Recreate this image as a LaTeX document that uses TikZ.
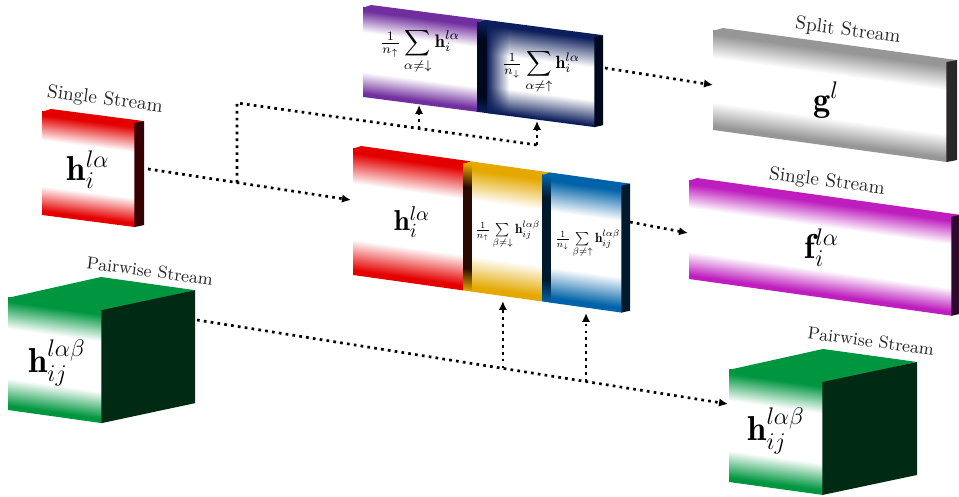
\documentclass[tikz,border=0pt]{standalone}
\usepackage{fontspec}
\usepackage{amsmath}
\usepackage{graphicx}
\usetikzlibrary{arrows.meta,calc,fadings}
\definecolor{cRed}{RGB}{228,0,0}
\definecolor{cRedD}{RGB}{55,0,0}
\definecolor{cYel}{RGB}{228,168,0}
\definecolor{cYelD}{RGB}{40,10,0}
\definecolor{cBlu}{RGB}{0,98,168}
\definecolor{cBluD}{RGB}{0,25,45}
\definecolor{cPur}{RGB}{112,46,158}
\definecolor{cNav}{RGB}{12,30,92}
\definecolor{cNavD}{RGB}{0,8,30}
\definecolor{cGry}{RGB}{150,150,150}
\definecolor{cGryD}{RGB}{40,40,40}
\definecolor{cMag}{RGB}{190,30,190}
\definecolor{cMagD}{RGB}{45,10,45}
\definecolor{cGrn}{RGB}{0,150,64}
\definecolor{cGrnD}{RGB}{0,42,20}
\newcommand\mkshade[2]{\pgfdeclareverticalshading{#1}{100bp}{color(0bp)=(#2); color(27bp)=(#2); color(39bp)=(white); color(61bp)=(white); color(73bp)=(#2); color(100bp)=(#2)}}
\newcommand\mkstrip[3]{\pgfdeclareverticalshading{#1}{100bp}{color(0bp)=(#2); color(25bp)=(#2); color(34bp)=(#3); color(66bp)=(#3); color(75bp)=(#2); color(100bp)=(#2)}}
\mkshade{shR}{cRed}
\mkshade{shY}{cYel}
\mkshade{shB}{cBlu}
\mkshade{shP}{cPur}
\mkshade{shG}{cGry}
\mkshade{shM}{cMag}
\mkshade{shGr}{cGrn}
\pgfdeclareverticalshading{shN}{100bp}{color(0bp)=(cNav); color(26bp)=(cNav); color(40bp)=(white); color(58bp)=(white); color(74bp)=(cNav); color(100bp)=(cNav)}
\mkstrip{stY}{cYel}{cYelD}
\mkstrip{stB}{cBlu}{cBluD}
\mkstrip{stN}{cNav}{cNavD}
\tikzfading[name=faderight, left color=transparent!0, right color=transparent!100]
% front face: x, y, w, h, slope, shading
\newcommand\frontface[6]{%
  \begin{scope}[transform canvas={shift={(#1,#2)},yslant=-#5}]
    \shade[shading=#6] (0,0) rectangle (#3,#4);
  \end{scope}}
% left edge glow on a front face: x, y, w, h, slope, colour
\newcommand\edgeglow[6]{%
  \begin{scope}[transform canvas={shift={(#1,#2)},yslant=-#5}]
    \fill[#6, path fading=faderight] (0,0) rectangle (#3,#4);
  \end{scope}}
% side face: x, y, w, h, slope, dx, dy, colour
\newcommand\sideface[8]{%
  \fill[#8] (#1+#3-0.6,#2+#3*#5) -- (#1+#3+#6,#2+#3*#5+#7) -- (#1+#3+#6,#2+#3*#5+#7+#4) -- (#1+#3-0.6,#2+#3*#5+#4) -- cycle;}
% top face: x, y, w, slope, dx, dy, colour
\newcommand\topface[7]{%
  \fill[#7] (#1,#2+0.8) -- (#1+#3,#2+#3*#4+0.8) -- (#1+#3+#5,#2+#3*#4+#6) -- (#1+#5,#2+#6) -- cycle;}
\begin{document}
\begin{tikzpicture}[x=0.5pt,y=-0.5pt,
  conn/.style={line width=1.35pt, dash pattern=on 1.35pt off 2.1pt, -{Latex[length=4.5pt,width=4.2pt]}},
  plainline/.style={line width=1.35pt, dash pattern=on 1.35pt off 2.1pt},
  lab/.style={font=\fontsize{9.6}{11}\selectfont, rotate=-7.5, inner sep=0pt, text=black!85},
  labp/.style={font=\fontsize{8.7}{10}\selectfont, rotate=-7.5, inner sep=0pt, text=black!85},
  mlab/.style={inner sep=0pt}]
\useasboundingbox (0,0) rectangle (959,497);

% ---------- small single stream box (left)
\frontface{42}{111}{93}{104}{0.13}{shR}
\topface{42}{111}{93}{0.13}{9}{-2}{cRed}
\sideface{42}{111}{93}{104}{0.13}{9}{-2}{cRedD}
\node[mlab] (srl) at (88,170) {\LARGE$\mathbf{h}_i^{l\alpha}$};
\node[lab] (srt) at (105,100) {Single Stream};

% ---------- pairwise cube (left)
\frontface{8}{297}{94}{113}{0.14}{shGr}
\topface{8}{297}{94}{0.14}{93}{-20}{cGrn}
\sideface{8}{297}{94}{113}{0.14}{93}{-20}{cGrnD}
\node[mlab] (gcl) at (57,363) {\LARGE$\mathbf{h}_{ij}^{l\alpha\beta}$};
\node[labp] (gct) at (150,271) {Pairwise Stream};

% ---------- top row (purple + navy)
\frontface{363}{7}{114}{90}{0.13}{shP}
\topface{363}{7}{114}{0.13}{8}{-2}{cPur}
\frontface{477}{21.82}{10}{90}{0.13}{stN}
\frontface{487}{23.12}{108}{90}{0.13}{shN}
\edgeglow{487}{23.12}{22}{90}{0.13}{cNav}
\topface{477}{21.82}{118}{0.13}{8}{-2}{cNav}
\sideface{487}{23.12}{108}{90}{0.13}{8}{-2}{cNavD}
\node[mlab] (ppl) at (420,51) {\resizebox{40pt}{!}{$\frac{1}{n_\uparrow}\displaystyle\sum_{\alpha\neq\downarrow}\mathbf{h}_i^{l\alpha}$}};
\node[mlab] (nvl) at (541,72) {\resizebox{39pt}{!}{$\frac{1}{n_\downarrow}\displaystyle\sum_{\alpha\neq\uparrow}\mathbf{h}_i^{l\alpha}$}};

% ---------- middle row (red + yellow + blue)
\frontface{353}{148}{110}{127}{0.14}{shR}
\topface{353}{148}{110}{0.14}{8}{-2}{cRed}
\frontface{463}{163.4}{9}{127}{0.14}{stY}
\frontface{472}{164.66}{70}{127}{0.14}{shY}
\topface{463}{163.4}{79}{0.14}{8}{-2}{cYel}
\frontface{542}{174.46}{9}{127}{0.14}{stB}
\frontface{551}{175.72}{71}{127}{0.14}{shB}
\topface{542}{174.46}{80}{0.14}{8}{-2}{cBlu}
\sideface{551}{175.72}{71}{127}{0.14}{8}{-2}{cBluD}
\node[mlab] (mrl) at (412,222) {\Large$\mathbf{h}_i^{l\alpha}$};
\node[mlab] (yll) at (507.5,235) {\resizebox{32.5pt}{!}{$\frac{1}{n_\uparrow}\sum\limits_{\beta\neq\downarrow}\mathbf{h}_{ij}^{l\alpha\beta}$}};
\node[mlab] (bll) at (587.5,244) {\resizebox{32.5pt}{!}{$\frac{1}{n_\downarrow}\sum\limits_{\beta\neq\uparrow}\mathbf{h}_{ij}^{l\alpha\beta}$}};

% ---------- split stream (grey)
\frontface{713}{30}{234}{100}{0.137}{shG}
\topface{713}{30}{234}{0.137}{10}{-2}{cGry}
\sideface{713}{30}{234}{100}{0.137}{10}{-2}{cGryD}
\node[mlab] (grl) at (826,100) {\LARGE$\mathbf{g}^{l}$};
\node[lab] (grt) at (848,31) {Split Stream};

% ---------- single stream (magenta)
\frontface{689}{180}{263}{99}{0.14}{shM}
\topface{689}{180}{263}{0.14}{8}{-2}{cMag}
\sideface{689}{180}{263}{99}{0.14}{8}{-2}{cMagD}
\node[mlab] (mgl) at (822,248) {\LARGE$\mathbf{f}_i^{l\alpha}$};
\node[lab] (mgt) at (827,182) {Single Stream};

% ---------- pairwise cube (right)
\frontface{729}{369}{94}{113}{0.138}{shGr}
\topface{729}{369}{94}{0.138}{94}{-20}{cGrn}
\sideface{729}{369}{94}{113}{0.138}{94}{-20}{cGrnD}
\node[mlab] (rcl) at (776,431) {\LARGE$\mathbf{h}_{ij}^{l\alpha\beta}$};
\node[labp] (rct) at (871,341) {Pairwise Stream};

% ---------- connectors
\coordinate (srOut) at (148,169);
\coordinate (mrIn) at (351,200);
\coordinate (j1) at ($(srOut)!0.438!(mrIn)$);
\coordinate (k1) at (j1 |- 0,103);
\coordinate (k2) at (537,145);
\coordinate (k3) at ($(k1)!0.607!(k2)$);
\coordinate (ppIn) at (k3 |- 0,105);
\coordinate (nvIn) at (k2 |- 0,121);
\draw[conn] (srOut) -- (mrIn);
\draw[plainline] (j1) -- (k1) -- (k2);
\draw[conn] (k2) -- (nvIn);
\draw[conn] (k3) -- (ppIn);

\coordinate (nvOut) at (605,68);
\coordinate (grIn) at (713,85);
\draw[conn] (nvOut) -- (grIn);

\coordinate (blOut) at (630,222);
\coordinate (mgIn) at (688,233);
\draw[conn] (blOut) -- (mgIn);

\coordinate (gcOut) at (197,320);
\coordinate (rcIn) at (728,404);
\coordinate (j2) at ($(gcOut)!0.576!(rcIn)$);
\coordinate (j3) at ($(gcOut)!0.7326!(rcIn)$);
\coordinate (ylIn) at (j2 |- 0,301);
\coordinate (blIn) at (j3 |- 0,313);
\draw[conn] (gcOut) -- (rcIn);
\draw[conn] (j2) -- (ylIn);
\draw[conn] (j3) -- (blIn);
\end{tikzpicture}
\end{document}
